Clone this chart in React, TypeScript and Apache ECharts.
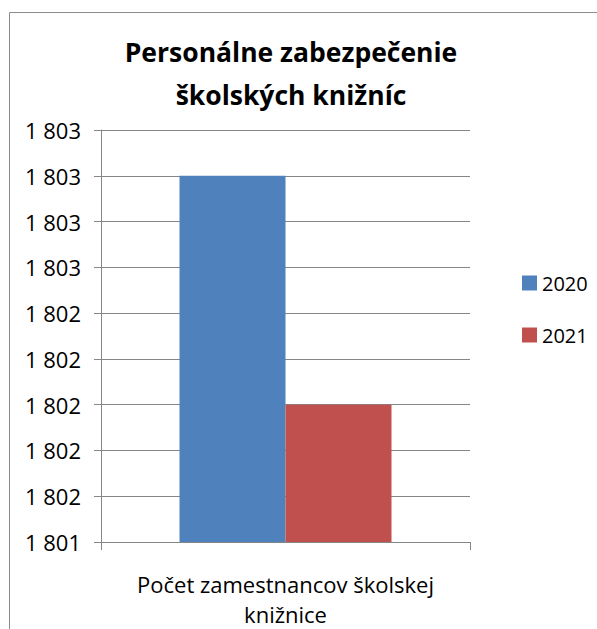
import React, { useEffect, useRef } from "react";
import * as echarts from "echarts";

const categories = ["Počet zamestnancov školskej\nknižnice"];
const seriesNames = ["2020", "2021"];
const values2020 = [1803.0];
const values2021 = [1802.0];
const colors = ["#4F81BD", "#C0504D"];
const titleText = "Personálne zabezpečenie\nškolských knižníc";

const fmt = (v: number) => {
  const r = Math.round(v);
  return String(r).replace(/\B(?=(\d{3})+(?!\d))/g, " ");
};

export default function App() {
  const ref = useRef<HTMLDivElement>(null);
  useEffect(() => {
    if (!ref.current) return;
    const chart = echarts.init(ref.current, undefined, { renderer: "svg" });
    const font = "'Open Sans', sans-serif";
    chart.setOption({
      animation: false,
      backgroundColor: "#ffffff",
      textStyle: { fontFamily: font },
      graphic: [
        {
          type: "rect",
          shape: { x: 9.5, y: 12.5, width: 700, height: 700 },
          style: { fill: "none", stroke: "#8c8c8c", lineWidth: 1 },
          silent: true,
        },
      ],
      title: {
        text: titleText,
        left: 286,
        textAlign: "center",
        top: 25,
        textStyle: {
          fontFamily: font,
          fontWeight: "bold",
          fontSize: 26.5,
          lineHeight: 43,
          color: "#000",
        },
      },
      legend: {
        orient: "vertical",
        left: 517,
        top: 268,
        itemWidth: 15,
        itemHeight: 15,
        itemGap: 32,
        icon: "rect",
        textStyle: { fontFamily: font, fontSize: 20, color: "#000" },
        data: seriesNames,
      },
      grid: { left: 101, right: 127, top: 130, bottom: 86, containLabel: false },
      xAxis: {
        type: "category",
        data: categories,
        axisLine: { lineStyle: { color: "#868686" } },
        axisTick: { show: true, length: 8, lineStyle: { color: "#868686" } },
        axisLabel: {
          color: "#000",
          fontSize: 22,
          lineHeight: 30,
          margin: 27,
          fontFamily: font,
        },
      },
      yAxis: {
        type: "value",
        min: 1801.4,
        max: 1803.2,
        interval: 0.2,
        axisLine: { show: true, lineStyle: { color: "#868686" } },
        axisTick: { show: true, length: 7, lineStyle: { color: "#868686" } },
        splitLine: { lineStyle: { color: "#868686" } },
        axisLabel: {
          color: "#000",
          fontSize: 22,
          margin: 20,
          fontFamily: font,
          formatter: (v: number) => fmt(v),
        },
      },
      series: [
        {
          name: seriesNames[0],
          type: "bar",
          data: values2020,
          barWidth: 106,
          barGap: "0%",
          itemStyle: { color: colors[0] },
        },
        {
          name: seriesNames[1],
          type: "bar",
          data: values2021,
          barWidth: 106,
          barGap: "0%",
          itemStyle: { color: colors[1] },
        },
      ],
    });
    return () => chart.dispose();
  }, []);
  return (
    <div
      ref={ref}
      style={{ position: "fixed", left: 0, top: 0, width: 597, height: 629 }}
    />
  );
}
